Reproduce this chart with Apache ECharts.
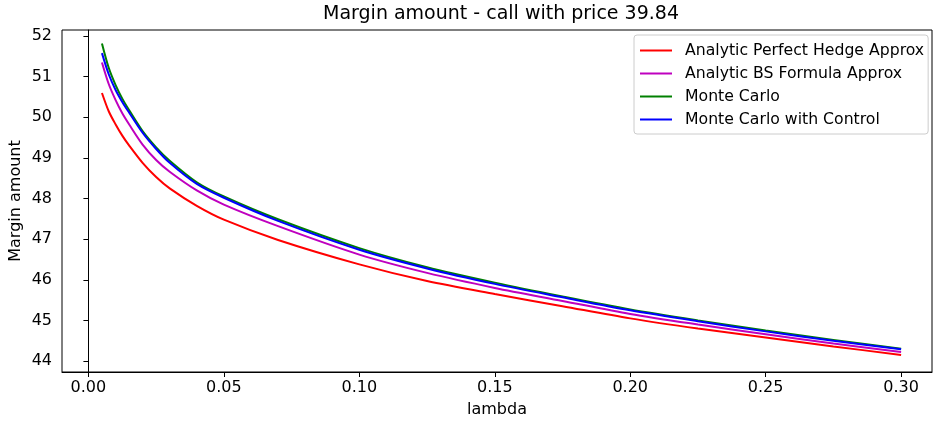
<!DOCTYPE html>
<html>
<head>
<meta charset="utf-8">
<script src="https://cdn.jsdelivr.net/npm/echarts@6/dist/echarts.min.js"></script>
<style>
  html, body { margin: 0; padding: 0; background: #fff; }
  #main { width: 933px; height: 423px; }
</style>
</head>
<body>
<div id="main"></div>
<script>
var chart = echarts.init(document.getElementById('main'));

// lambda values
var lambdas = [0.005, 0.0075, 0.01, 0.0125, 0.015, 0.02, 0.025, 0.03, 0.04, 0.05, 0.07, 0.10, 0.125, 0.15, 0.175, 0.20, 0.225, 0.25, 0.275, 0.30];
var perfectHedge = [50.60, 50.15, 49.83, 49.55, 49.31, 48.88, 48.53, 48.25, 47.82, 47.48, 46.98, 46.38, 45.97, 45.65, 45.35, 45.05, 44.80, 44.58, 44.36, 44.15];
var bsFormula    = [51.35, 50.82, 50.43, 50.10, 49.83, 49.33, 48.95, 48.66, 48.20, 47.85, 47.32, 46.62, 46.17, 45.80, 45.48, 45.16, 44.90, 44.66, 44.43, 44.22];
var monteCarlo   = [51.82, 51.22, 50.80, 50.46, 50.18, 49.66, 49.26, 48.93, 48.40, 48.05, 47.49, 46.78, 46.31, 45.93, 45.59, 45.27, 45.00, 44.75, 44.52, 44.30];
var mcControl    = [51.58, 51.06, 50.68, 50.38, 50.12, 49.62, 49.22, 48.88, 48.36, 48.02, 47.45, 46.74, 46.28, 45.90, 45.57, 45.25, 44.98, 44.73, 44.50, 44.29];

var xTicks = [0, 0.05, 0.10, 0.15, 0.20, 0.25, 0.30];
var yTicks = [44, 45, 46, 47, 48, 49, 50, 51, 52];

var names = ['Analytic Perfect Hedge Approx', 'Analytic BS Formula Approx', 'Monte Carlo', 'Monte Carlo with Control'];
var colors = ['#ff0000', '#bf00bf', '#008000', '#0000ff'];
var values = [perfectHedge, bsFormula, monteCarlo, mcControl];

function pairs(ys) {
    return lambdas.map(function (l, i) { return [l, ys[i]]; });
}

var font = 'DejaVu Sans';

option = {
    backgroundColor: '#fff',
    animation: false,
    textStyle: { fontFamily: font },
    title: {
        text: 'Margin amount - call with price 39.84',
        left: 496,
        textAlign: 'center',
        top: 0,
        textStyle: { fontFamily: font, fontSize: 19, fontWeight: 'normal', color: '#000' }
    },
    legend: {
        orient: 'vertical',
        left: 634,
        top: 35,
        data: names,
        icon: 'rect',
        itemWidth: 32,
        itemHeight: 2,
        itemGap: 6,
        padding: [7, 4, 6, 6],
        backgroundColor: '#fff',
        borderColor: '#cccccc',
        borderWidth: 1,
        borderRadius: 3,
        textStyle: { fontFamily: font, fontSize: 15.7, color: '#000', lineHeight: 17, padding: [0, 0, 0, 8] }
    },
    grid: {
        left: 62,
        right: 1,
        top: 30,
        bottom: 51,
        outerBoundsMode: 'none',
        show: true,
        borderColor: '#000',
        borderWidth: 1
    },
    xAxis: {
        type: 'value',
        min: -0.00975,
        max: 0.3114,
        name: 'lambda',
        nameLocation: 'middle',
        nameGap: 30,
        nameTextStyle: { fontFamily: font, fontSize: 16, color: '#000' },
        axisLine: { show: true, lineStyle: { color: '#000', width: 1 } },
        axisTick: { show: true, customValues: xTicks, length: 5, lineStyle: { color: '#000' } },
        axisLabel: {
            customValues: xTicks,
            margin: 8,
            fontFamily: font,
            fontSize: 16,
            color: '#000',
            formatter: function (v) { return v.toFixed(2); }
        },
        splitLine: { show: false }
    },
    yAxis: {
        type: 'value',
        min: 43.73,
        max: 52.15,
        name: 'Margin amount',
        nameLocation: 'middle',
        nameMoveOverlap: false,
        nameGap: 38,
        nameTextStyle: { fontFamily: font, fontSize: 16, color: '#000' },
        axisLine: { show: true, lineStyle: { color: '#000', width: 1 } },
        axisTick: { show: true, customValues: yTicks, length: 5, lineStyle: { color: '#000' } },
        axisLabel: {
            customValues: yTicks,
            margin: 10,
            fontFamily: font,
            fontSize: 16,
            color: '#000'
        },
        splitLine: { show: false }
    },
    series: names.map(function (n, i) {
        return {
            name: n,
            type: 'line',
            smooth: 0.3,
            symbol: 'none',
            color: colors[i],
            lineStyle: { width: 2, color: colors[i] },
            data: pairs(values[i]),
            z: 2 + i
        };
    })
};

chart.setOption(option);
</script>
</body>
</html>
